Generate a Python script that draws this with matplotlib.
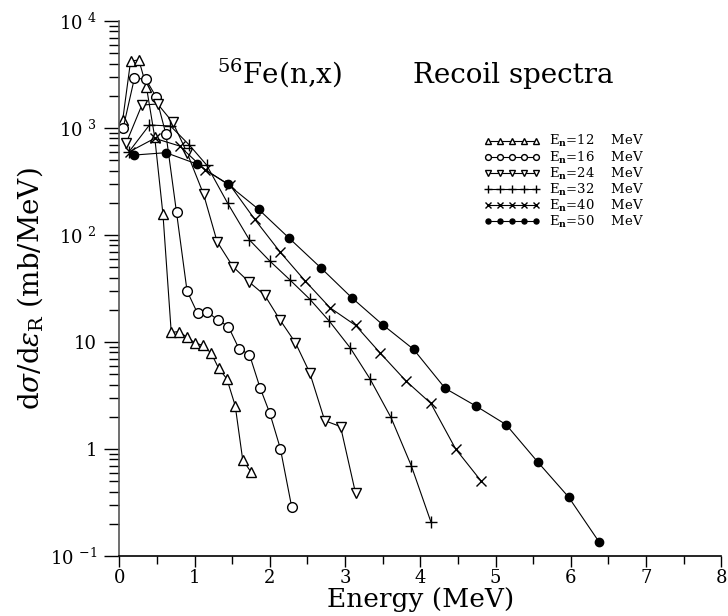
import numpy as np
import matplotlib
matplotlib.use("Agg")
import matplotlib.pyplot as plt
from matplotlib.ticker import FixedLocator, FixedFormatter, LogLocator, MultipleLocator, NullFormatter

plt.rcParams['font.family'] = ['DejaVu Serif']
plt.rcParams['mathtext.fontset'] = 'dejavuserif'

# recoil energy grids (MeV) and spectra (mb/MeV) for each incident neutron energy
e_12 = [0.045, 0.15, 0.26, 0.36, 0.47, 0.58, 0.69, 0.79, 0.90, 1.00, 1.11, 1.22, 1.32, 1.43, 1.54, 1.64, 1.75]
s_12 = [1190, 4230, 4320, 2430, 824, 156, 12.3, 12.5, 11.1, 9.85, 9.28, 7.89, 5.68, 4.51, 2.54, 0.79, 0.61]

e_16 = [0.05, 0.20, 0.35, 0.49, 0.62, 0.76, 0.90, 1.04, 1.17, 1.31, 1.45, 1.59, 1.73, 1.87, 2.00, 2.14, 2.29]
s_16 = [993, 2910, 2870, 1950, 873, 163, 30.0, 18.5, 19.0, 16.1, 13.9, 8.66, 7.61, 3.74, 2.16, 1.01, 0.289]

e_24 = [0.09, 0.30, 0.51, 0.71, 0.90, 1.12, 1.30, 1.51, 1.72, 1.93, 2.14, 2.34, 2.53, 2.73, 2.94, 3.14]
s_24 = [719, 1640, 1675, 1130, 588, 240, 86.5, 50.6, 36.6, 27.5, 15.9, 9.85, 5.17, 1.84, 1.62, 0.385]

e_32 = [0.13, 0.40, 0.68, 0.93, 1.16, 1.44, 1.73, 2.00, 2.27, 2.53, 2.79, 3.07, 3.33, 3.61, 3.88, 4.14]
s_32 = [601, 1067, 1044, 694, 451, 198, 89.8, 57.1, 37.9, 25.2, 15.7, 8.79, 4.54, 1.97, 0.698, 0.209]

e_40 = [0.14, 0.47, 0.80, 1.14, 1.47, 1.80, 2.14, 2.47, 2.80, 3.14, 3.47, 3.81, 4.14, 4.47, 4.81]
s_40 = [603, 801, 679, 405, 293, 140, 68.9, 37.2, 20.9, 14.3, 7.84, 4.32, 2.67, 1.00, 0.50]

e_50 = [0.20, 0.62, 1.03, 1.44, 1.85, 2.26, 2.68, 3.09, 3.50, 3.91, 4.33, 4.74, 5.14, 5.56, 5.97, 6.38]
s_50 = [559, 588, 461, 298, 174, 93, 49.2, 25.9, 14.5, 8.55, 3.69, 2.52, 1.69, 0.757, 0.356, 0.134]

incident = [12, 16, 24, 32, 40, 50]
curves = [(e_12, s_12), (e_16, s_16), (e_24, s_24), (e_32, s_32), (e_40, s_40), (e_50, s_50)]
styles = [
    dict(marker='^', ms=7, mfc='white'),
    dict(marker='o', ms=7, mfc='white'),
    dict(marker='v', ms=7, mfc='white'),
    dict(marker='+', ms=9, mew=1.0),
    dict(marker='x', ms=7, mew=1.0),
    dict(marker='o', ms=6, mfc='black'),
]

W, H = 728, 616
fig = plt.figure(figsize=(W / 100, H / 100), dpi=100)
ax = fig.add_axes([0.1639, 0.0974, 0.8269, 0.8685])

for en, (e, s), st in zip(incident, curves, styles):
    ax.plot(e, s, color='black', lw=0.8, mec='black',
            label=r'E$_{\mathbf{n}}$=%d    MeV' % en, **st)

ax.set_yscale('log')
ax.set_xlim(0, 8)
ax.set_ylim(0.1, 1e4)

for side in ('top', 'right'):
    ax.spines[side].set_visible(False)
ax.spines['left'].set_color('#555555')
ax.spines['left'].set_linewidth(1.2)
ax.spines['bottom'].set_linewidth(1.2)

ax.xaxis.set_major_locator(MultipleLocator(1))
ax.xaxis.set_minor_locator(MultipleLocator(0.5))
ax.yaxis.set_major_locator(FixedLocator([0.1, 1, 10, 100, 1000, 10000]))
ax.yaxis.set_major_formatter(FixedFormatter(
    ['10 $^{-1}$', '1', '10', '10 $^{2}$', '10 $^{3}$', '10 $^{4}$']))
ax.yaxis.set_minor_locator(LogLocator(base=10, subs=np.arange(2, 10)))
ax.yaxis.set_minor_formatter(NullFormatter())

ax.tick_params(axis='both', which='major', direction='out', labelsize=13, width=1)
ax.tick_params(axis='y', which='major', length=11, pad=5)
ax.tick_params(axis='y', which='minor', length=7, width=1)
ax.tick_params(axis='x', which='major', length=8, pad=1)
ax.tick_params(axis='x', which='minor', length=6, width=1)

ax.set_xlabel('Energy (MeV)', fontsize=19, labelpad=0)
ax.set_ylabel(r'd$\sigma$/d$\varepsilon_{\mathrm{R}}$ (mb/MeV)', fontsize=20, labelpad=3)

# title split in two pieces, placed in figure pixels
fig.text(217 / W, 1 - 83 / H, r'$^{56}$Fe(n,x)', fontsize=20, ha='left', va='baseline')
fig.text(413 / W, 1 - 83 / H, 'Recoil spectra', fontsize=20, ha='left', va='baseline')

leg = ax.legend(loc='upper left', bbox_to_anchor=(0.606, 0.79), frameon=False,
                numpoints=5, handlelength=4.2, markerscale=0.6, fontsize=9.5,
                labelspacing=0.0, handletextpad=0.75, borderaxespad=0,
                borderpad=0)

fig.savefig('out.png', dpi=100)
